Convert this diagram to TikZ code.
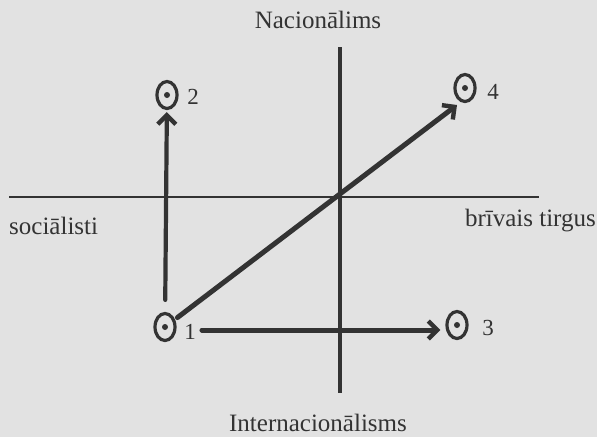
\documentclass[tikz,border=0pt]{standalone}
\usepackage{fontspec}
\setmainfont{Liberation Serif}
\usetikzlibrary{shapes.geometric,arrows.meta}
\definecolor{paper}{HTML}{E2E2E2}
\definecolor{ink}{HTML}{333333}
\begin{document}
\begin{tikzpicture}[x=1pt,y=-1pt,
  lbl/.style={text=ink,inner sep=0pt,font=\fontsize{25}{30}\selectfont},
  num/.style={text=ink,inner sep=0pt,font=\fontsize{23}{28}\selectfont},
  sym/.style={draw=ink,ellipse,minimum width=20pt,minimum height=27pt,inner sep=0pt,line width=3.2pt},
  axis/.style={draw=ink,line width=2.8pt},
  arr/.style={draw=ink,line width=5pt,line cap=round,-{Straight Barb[length=9pt,width=18pt,line width=4.4pt]}}]
\fill[paper] (0,0) rectangle (597,437);
\useasboundingbox (0,0) rectangle (597,437);
% axes
\coordinate (vt) at (340,47);
\coordinate (vb) at (340,393);
\coordinate (hl) at (9,197);
\coordinate (hr) at (539,197);
\draw[axis,line width=3.6pt] (vt) -- (vb);
\draw[axis] (hl) -- (hr);
% axis labels
\node[lbl] (nac) at (318,20) {Nacionālims};
\node[lbl] (int) at (318,423) {Internacionālisms};
\node[lbl,anchor=west] (soc) at (9,226) {sociālisti};
\node[lbl,anchor=east] (bri) at (596,221) {brīvais tirgus};
% symbols
\node[sym] (p1) at (165,327) {};
\node[sym] (p2) at (167,95) {};
\node[sym] (p3) at (457,325) {};
\node[sym] (p4) at (465,88) {};
\foreach \p in {p1,p2,p3,p4} \fill[ink] (\p.center) circle (3pt);
\node[num] (n1) at (190,332) {1};
\node[num] (n2) at (193,97) {2};
\node[num] (n3) at (488,328) {3};
\node[num] (n4) at (493,92) {4};
% arrows
\coordinate (a4) at (457,105);
\draw[arr,line width=4.2pt,shorten <=12pt,shorten >=2pt] (p1) -- (p2);
\draw[arr,shorten <=6pt,shorten >=5pt] (n1.east |- p1.center) ++(0,3) coordinate (hs) (hs) -- (hs -| p3.west);
\draw[arr,shorten <=3pt] (p1) -- (a4);
\end{tikzpicture}
\end{document}
